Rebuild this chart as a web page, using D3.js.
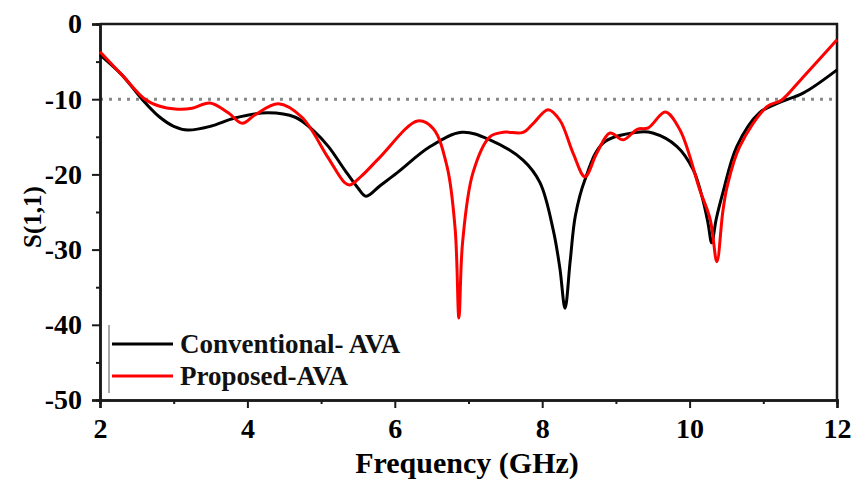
<!DOCTYPE html>
<html>
<head>
<meta charset="utf-8">
<script src="https://cdn.jsdelivr.net/npm/d3@7"></script>
<style>
  body { margin: 0; background: #fff; }
  svg text { font-family: "Times New Roman", Times, "Liberation Serif", "DejaVu Serif", serif; font-weight: bold; }
</style>
</head>
<body>
<svg id="chart" width="853" height="482"></svg>
<script>
// values (GHz, dB)
var convFreq = [2.0, 2.3, 2.57, 2.8, 3.0, 3.19, 3.5, 3.83, 4.28, 4.65, 4.9, 5.1, 5.32, 5.5, 5.61, 5.8, 6.03, 6.48, 6.91, 7.29, 7.74, 7.97, 8.15, 8.24, 8.31, 8.38, 8.45, 8.58, 8.83, 9.29, 9.5, 9.83, 10.05, 10.18, 10.25, 10.3, 10.36, 10.45, 10.64, 10.95, 11.23, 11.54, 12.0];
var convS11 = [-4.1, -6.8, -10.0, -12.3, -13.6, -14.1, -13.6, -12.5, -11.8, -12.4, -14.2, -16.3, -19.4, -21.8, -22.9, -21.5, -19.8, -16.3, -14.4, -15.4, -18.1, -21.1, -27.4, -32.5, -37.8, -31.5, -25.5, -20.7, -15.8, -14.4, -14.5, -16.3, -19.4, -23.4, -26.5, -29.1, -26.0, -22.5, -16.3, -11.8, -10.4, -9.2, -6.1];
var propFreq = [2.0, 2.3, 2.61, 2.8, 3.02, 3.25, 3.49, 3.74, 3.93, 4.1, 4.42, 4.74, 5.09, 5.32, 5.39, 5.55, 5.8, 6.31, 6.52, 6.71, 6.82, 6.87, 6.92, 7.06, 7.29, 7.47, 7.74, 7.88, 8.08, 8.24, 8.42, 8.58, 8.74, 8.92, 9.1, 9.29, 9.44, 9.67, 9.87, 10.14, 10.28, 10.37, 10.45, 10.51, 10.68, 11.05, 11.25, 11.5, 12.0];
var propS11 = [-3.7, -6.8, -10.0, -10.9, -11.3, -11.2, -10.5, -11.8, -13.2, -12.1, -10.6, -12.4, -17.7, -21.1, -21.4, -20.2, -17.7, -12.9, -13.9, -19.0, -27.4, -39.1, -29.0, -19.8, -15.0, -14.4, -14.4, -13.2, -11.4, -12.8, -17.2, -20.3, -17.2, -14.5, -15.4, -14.0, -13.8, -11.7, -14.1, -22.1, -26.0, -31.6, -25.0, -21.6, -16.3, -11.0, -10.1, -7.5, -2.1];
var xTicks = [2, 4, 6, 8, 10, 12];
var xMinor = [3, 5, 7, 9, 11];
var yTicks = [0, -10, -20, -30, -40, -50];
var yMinor = [-5, -15, -25, -35, -45];
var seriesNames = ["Conventional- AVA", "Proposed-AVA"];
var seriesColors = ["#000000", "#ff0000"];
var threshold = -10;

var serif = '"Times New Roman", Times, "Liberation Serif", "DejaVu Serif", serif';
var svg = d3.select("#chart");
var plot = { left: 100, right: 837, top: 24, bottom: 400 };

var x = d3.scaleLinear().domain([2, 12]).range([plot.left, plot.right]);
var y = d3.scaleLinear().domain([-50, 0]).range([plot.bottom, plot.top]);

// -10 dB reference
svg.append("line")
  .attr("x1", plot.left).attr("x2", plot.right)
  .attr("y1", y(threshold)).attr("y2", y(threshold))
  .attr("stroke", "#888").attr("stroke-width", 3).attr("stroke-dasharray", "3,6");

// axes (plain hyphen for negatives, like the original)
var plain = function(d) { return String(d); };
var xAxis = svg.append("g").attr("transform", "translate(0," + plot.bottom + ")")
  .call(d3.axisBottom(x).tickValues(xTicks).tickSize(8).tickPadding(10).tickFormat(plain));
svg.append("g").attr("transform", "translate(0," + plot.bottom + ")")
  .call(d3.axisBottom(x).tickValues(xMinor).tickSize(4).tickFormat(""));
var yAxis = svg.append("g").attr("transform", "translate(" + plot.left + ",0)")
  .call(d3.axisLeft(y).tickValues(yTicks).tickSize(8).tickPadding(10).tickFormat(plain));
svg.append("g").attr("transform", "translate(" + plot.left + ",0)")
  .call(d3.axisLeft(y).tickValues(yMinor).tickSize(4).tickFormat(""));

svg.selectAll("g").attr("font-family", serif);
svg.selectAll(".domain").attr("stroke", "#1a1a1a").attr("stroke-width", 2.5);
svg.selectAll(".tick line").attr("stroke", "#1a1a1a").attr("stroke-width", 2);
svg.selectAll(".tick text").style("font-family", serif).style("font-weight", "bold").attr("fill", "#000");
xAxis.selectAll(".tick text").style("font-size", "28px");
yAxis.selectAll(".tick text").style("font-size", "28px");

// top and right frame
svg.append("path")
  .attr("d", "M" + plot.left + "," + plot.top + "H" + plot.right + "V" + plot.bottom)
  .attr("fill", "none").attr("stroke", "#1a1a1a").attr("stroke-width", 2.5);

// curves
var line = d3.line().x(function(d) { return x(d[0]); }).y(function(d) { return y(d[1]); })
  .curve(d3.curveCatmullRom.alpha(0.5));

svg.append("path")
  .datum(d3.zip(convFreq, convS11))
  .attr("d", line).attr("fill", "none").attr("stroke", seriesColors[0]).attr("stroke-width", 3);
svg.append("path")
  .datum(d3.zip(propFreq, propS11))
  .attr("d", line).attr("fill", "none").attr("stroke", seriesColors[1]).attr("stroke-width", 3);

// legend
svg.append("line").attr("x1", 109).attr("x2", 109).attr("y1", 325).attr("y2", 393)
  .attr("stroke", "#555").attr("stroke-width", 1);
seriesNames.forEach(function(name, i) {
  var ly = 344 + i * 32;
  svg.append("line").attr("x1", 112).attr("x2", 173).attr("y1", ly).attr("y2", ly)
    .attr("stroke", seriesColors[i]).attr("stroke-width", 3);
  svg.append("text").attr("x", 180).attr("y", ly + 9)
    .style("font-family", serif).style("font-size", "27px").attr("fill", "#111").text(name);
});

// axis titles
svg.append("text").attr("x", 467).attr("y", 473)
  .attr("text-anchor", "middle").style("font-family", serif).style("font-size", "30px").text("Frequency (GHz)");
svg.append("text").attr("transform", "translate(41,217) rotate(-90)")
  .attr("text-anchor", "middle").style("font-family", serif).style("font-size", "25px").text("S(1,1)");
</script>
</body>
</html>
